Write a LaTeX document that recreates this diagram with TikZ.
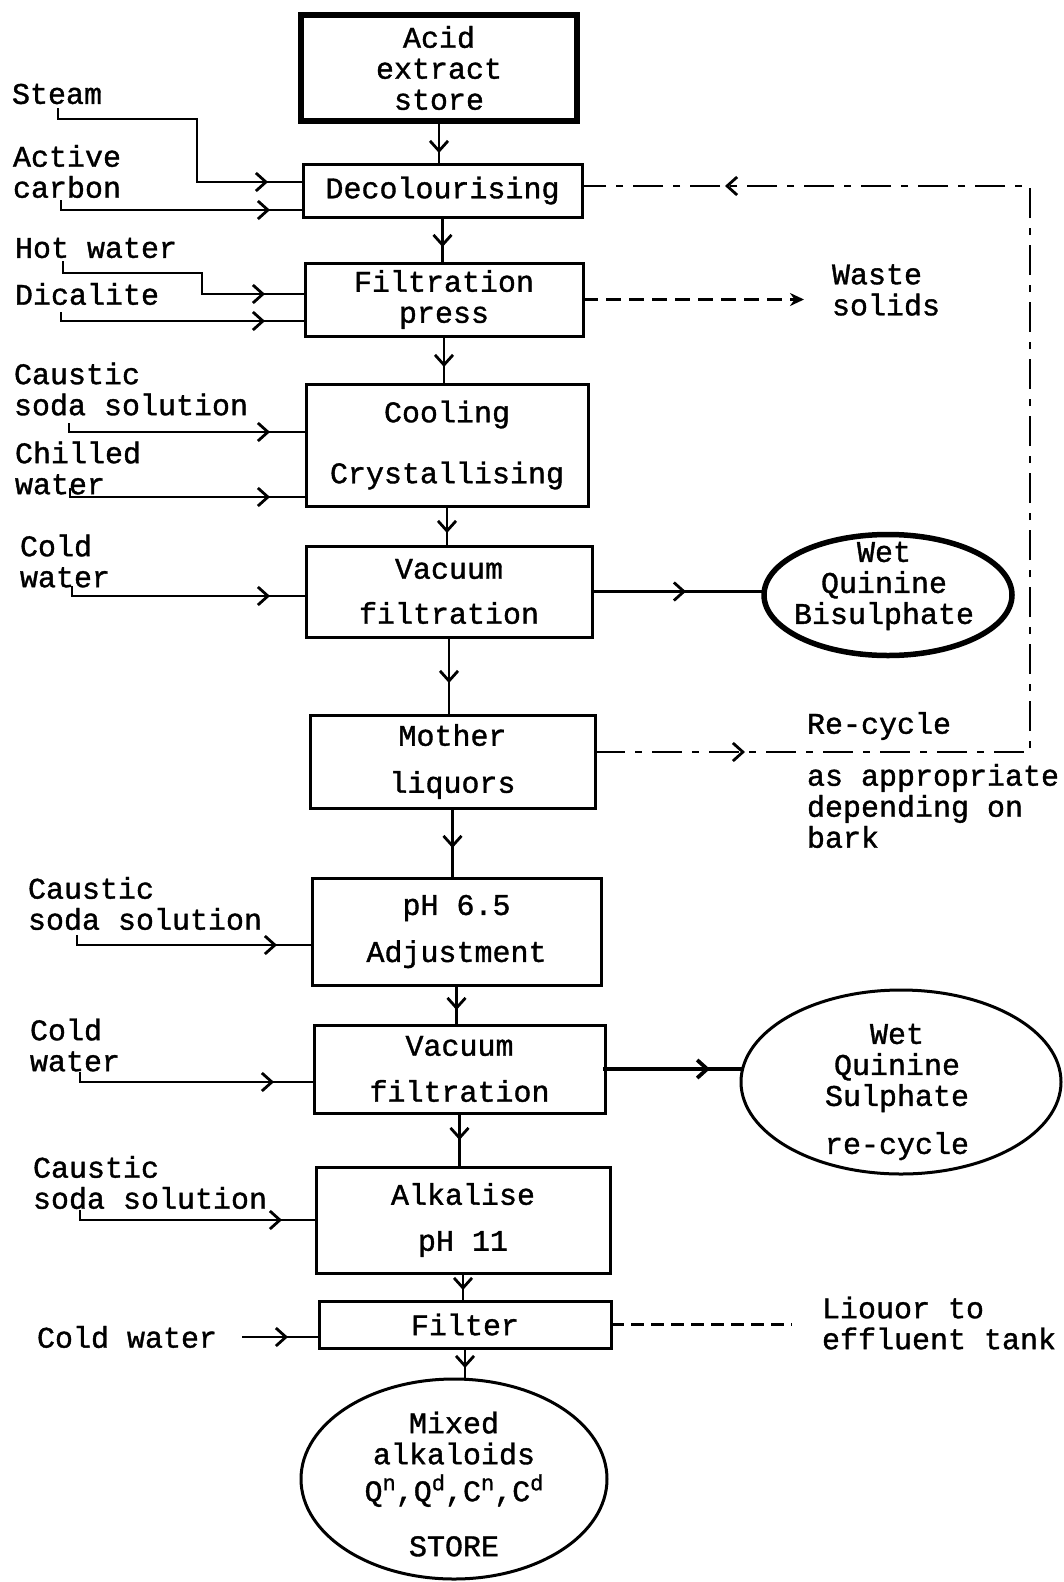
\documentclass[tikz,border=0pt]{standalone}
\usepackage{fontspec}
\setmainfont{Liberation Mono}[FakeBold=1.2]
\usetikzlibrary{arrows.meta,decorations.markings,shapes.geometric}
\newcommand{\supx}[1]{\raisebox{11pt}{\fontsize{22}{22}\selectfont #1}}
\begin{document}
\begin{tikzpicture}[x=1pt,y=-1pt,
  every node/.style={font=\fontsize{30}{31}\selectfont, inner sep=0pt, outer sep=0pt},
  box/.style={draw, rectangle, line width=3pt, align=center},
  oval/.style={draw, ellipse, line width=3pt},
  txt/.style={align=center},
  lbl/.style={align=left, anchor=west},
  conn/.style={line width=2.8pt, line cap=rect},
  arrowat/.style={decoration={markings, mark=at position #1 with {\arrow{Straight Barb[length=10pt,width=18pt]}}}, postaction={decorate}},
  recyc/.style={line width=2.8pt, dash pattern=on 30pt off 10pt on 7pt off 10pt},
  wdash/.style={line width=2.8pt, dash pattern=on 15pt off 8pt},
  edash/.style={line width=2.8pt, dash pattern=on 13pt off 7pt}
]
\useasboundingbox (0,0) rectangle (1063,1582);

% ---- process boxes
\node[box, line width=6pt, minimum width=276pt, minimum height=106pt] (acid) at (439,68) {Acid\\extract\\store};
\node[box, minimum width=279pt, minimum height=53pt] (decol) at (442.5,190.5) {Decolourising};
\node[box, minimum width=278pt, minimum height=73pt] (filt) at (444,299.5) {Filtration\\press};
\node[box, minimum width=282pt, minimum height=122pt] (cool) at (447,445) {Cooling\\[30pt]Crystallising};
\node[box, minimum width=286pt, minimum height=91pt] (vac1) at (449,591.5) {Vacuum\\[14pt]filtration};
\node[box, minimum width=285pt, minimum height=93pt] (mother) at (452.5,761.5) {Mother\\[16pt]liquors};
\node[box, minimum width=289pt, minimum height=107pt] (ph) at (456.5,931.5) {pH 6.5\\[16pt]Adjustment};
\node[box, minimum width=291pt, minimum height=88pt] (vac2) at (459.5,1069) {Vacuum\\[15pt]filtration};
\node[box, minimum width=294pt, minimum height=106pt] (alk) at (463,1220) {Alkalise\\[15pt]pH 11};
\node[box, minimum width=292pt, minimum height=47pt] (filter) at (465,1324.5) {Filter};

% ---- ovals
\node[oval, minimum width=306pt, minimum height=200pt] (store) at (454,1479) {};
\node[txt] (storeT) at (454,1484) {Mixed\\alkaloids\\[6pt]Q\supx{n},Q\supx{d},C\supx{n},C\supx{d}\\[24pt]STORE};
\node[oval, line width=5.5pt, minimum width=248pt, minimum height=121pt] (bisul) at (888,595) {};
\node[txt] (bisulT) at (884,586) {Wet\\Quinine\\Bisulphate};
\node[oval, minimum width=320pt, minimum height=184pt] (sulph) at (901,1082) {};
\node[txt] (sulphT) at (897,1092) {Wet\\Quinine\\Sulphate\\[17pt]re-cycle};

% ---- labels
\node[lbl] (steam) at (12,94) {Steam};
\node[lbl] (actc) at (13,171.5) {Active\\carbon};
\node[lbl] (hotw) at (15,248) {Hot water};
\node[lbl] (dical) at (15,294) {Dicalite};
\node[lbl] (caus1) at (14,389) {Caustic\\soda solution};
\node[lbl] (chill) at (15,468) {Chilled\\water};
\node[lbl] (cold1) at (20,561) {Cold\\water};
\node[lbl] (caus2) at (28,903.5) {Caustic\\soda solution};
\node[lbl] (cold2) at (30,1045) {Cold\\water};
\node[lbl] (caus3) at (33,1182.5) {Caustic\\soda solution};
\node[lbl] (cold3) at (37,1337) {Cold water};
\node[lbl] (waste) at (832,290) {Waste\\solids};
\node[lbl] (recyc) at (807,726) {Re-cycle};
\node[lbl] (approp) at (807,806) {as appropriate\\depending on\\bark};
\node[lbl] (liq) at (822,1323) {Liouor to\\effluent tank};

% ---- main flow
\draw[conn, arrowat=-11pt] (acid.south) -- (acid.south |- decol.north);
\draw[conn, arrowat=-16pt] (decol.south) -- (decol.south |- filt.north);
\draw[conn, arrowat=-17pt] (filt.south) -- (filt.south |- cool.north);
\draw[conn, arrowat=-13pt] (cool.south) -- (cool.south |- vac1.north);
\draw[conn, arrowat=-32pt] (vac1.south) -- (vac1.south |- mother.north);
\draw[conn, arrowat=-30pt] (mother.south) -- (mother.south |- ph.north);
\draw[conn, arrowat=-15pt] (ph.south) -- (ph.south |- vac2.north);
\draw[conn, arrowat=-27pt] (vac2.south) -- (vac2.south |- alk.north);
\draw[conn, arrowat=-11pt] (alk.south) -- (alk.south |- filter.north);
\draw[conn, arrowat=-11pt] (filter.south) -- (filter.south |- store.north);

% ---- inputs
\coordinate (stA) at (58,109); \coordinate (stB) at (197,119); \coordinate (stC) at (197,182);
\draw[conn, arrowat=-35pt] (stA) |- (stB) -- (stC) -- (stC -| decol.west);
\coordinate (acA) at (61,201); \coordinate (acB) at (61,210);
\draw[conn, arrowat=-33pt] (acA) -- (acB) -- (acB -| decol.west);
\coordinate (hwA) at (63,262); \coordinate (hwB) at (202,273); \coordinate (hwC) at (202,294);
\draw[conn, arrowat=-40pt] (hwA) |- (hwB) -- (hwC) -- (hwC -| filt.west);
\coordinate (dcA) at (61,313); \coordinate (dcB) at (61,321);
\draw[conn, arrowat=-40pt] (dcA) -- (dcB) -- (dcB -| filt.west);
\coordinate (c1A) at (69,424); \coordinate (c1B) at (69,432);
\draw[conn, arrowat=-36pt] (c1A) -- (c1B) -- (c1B -| cool.west);
\coordinate (chA) at (70,489); \coordinate (chB) at (70,497);
\draw[conn, arrowat=-36pt] (chA) -- (chB) -- (chB -| cool.west);
\coordinate (w1A) at (72,587); \coordinate (w1B) at (72,596);
\draw[conn, arrowat=-36pt] (w1A) -- (w1B) -- (w1B -| vac1.west);
\coordinate (c2A) at (77,936); \coordinate (c2B) at (77,945);
\draw[conn, arrowat=-35pt] (c2A) -- (c2B) -- (c2B -| ph.west);
\coordinate (w2A) at (80,1073); \coordinate (w2B) at (80,1082);
\draw[conn, arrowat=-40pt] (w2A) -- (w2B) -- (w2B -| vac2.west);
\coordinate (c3A) at (80,1211); \coordinate (c3B) at (80,1220);
\draw[conn, arrowat=-34pt] (c3A) -- (c3B) -- (c3B -| alk.west);
\draw[conn, shorten <=26pt, arrowat=-31pt] (cold3.east) -- (cold3.east -| filter.west);

% ---- outputs
\draw[conn, arrowat=-78pt] (vac1.east) -- (vac1.east -| bisul.west);
\draw[conn, line width=3.8pt, arrowat=-31pt] (vac2.east) -- (vac2.east -| sulph.west);
\draw[wdash, shorten >=28pt, -{Stealth[length=14pt,width=13pt]}] (filt.east) -- (filt.east -| waste.west);
\draw[edash, shorten >=30pt] (filter.east) -- (filter.east -| liq.west);

% ---- recycle loop
\coordinate (rc1) at (1030,752); \coordinate (rc2) at (1030,186);
\draw[recyc] (mother.east |- rc1) -- (rc1) -- (rc2) -- (rc2 -| decol.east);
\path[line width=2.8pt, decoration={markings,
   mark=at position 150pt with {\arrow{Straight Barb[length=10pt,width=18pt]}},
   mark=at position -143pt with {\arrow{Straight Barb[length=10pt,width=18pt]}}}, postaction={decorate}]
   (mother.east |- rc1) -- (rc1) -- (rc2) -- (rc2 -| decol.east);
\end{tikzpicture}
\end{document}
